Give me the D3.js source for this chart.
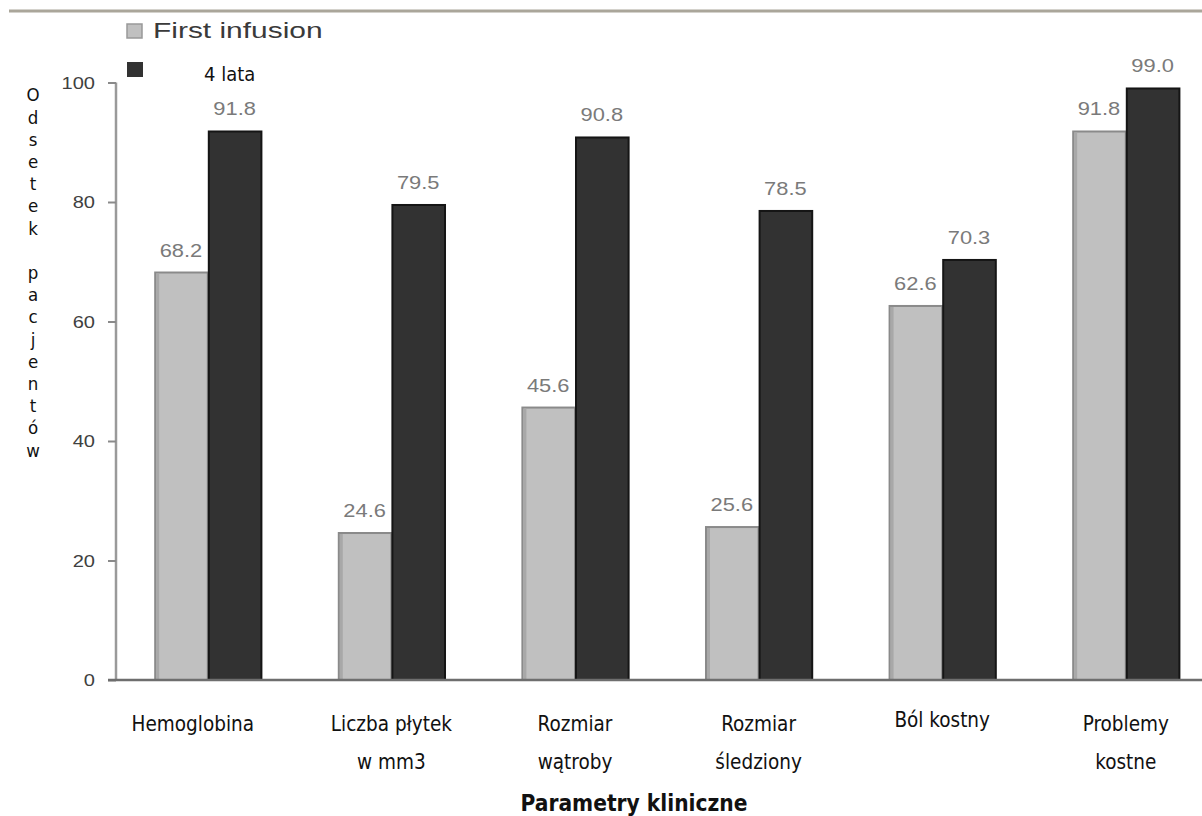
<!DOCTYPE html>
<html><head><meta charset="utf-8">
<script src="https://cdn.jsdelivr.net/npm/d3@7"></script>
<style>
html,body{margin:0;padding:0;background:#fff;}
svg{display:block;}
.tah{font-family:'DejaVu Sans Condensed','DejaVu Sans',sans-serif;font-stretch:condensed;}
.ari{font-family:'Liberation Sans',Arial,sans-serif;}
</style>
</head><body>
<svg id="chart" width="1202" height="816"></svg>
<script>
const categories = [["Hemoglobina"], ["Liczba płytek","w mm3"], ["Rozmiar","wątroby"], ["Rozmiar","śledziony"], ["Ból kostny"], ["Problemy","kostne"]];
const seriesNames = ["First infusion", "4 lata"];
const firstInfusion = [68.2, 24.6, 45.6, 25.6, 62.6, 91.8];
const fourYears = [91.8, 79.5, 90.8, 78.5, 70.3, 99.0];
const yTicks = [0, 20, 40, 60, 80, 100];
const yTitle = "Odsetek pacjentów";
const xTitle = "Parametry kliniczne";

const svg = d3.select("#chart");
const W = 1202;
const y = d3.scaleLinear().domain([0,100]).range([680, 82.5]);
const x0 = d3.scaleBand().domain(d3.range(categories.length)).range([116, 1217.6]).paddingInner(0.416).paddingOuter(0.208);
const x1 = d3.scaleBand().domain([0,1]).range([0, x0.bandwidth()]);
const colors = ["#c0c0c0", "#323232"];
const strokes = ["#8a8a8a", "#151515"];

// top rule
svg.append("line").attr("x1",9).attr("x2",W).attr("y1",11).attr("y2",11).attr("stroke","#aaa69a").attr("stroke-width",3);

function stretch(sel, f){ sel.each(function(){ const n=this.getComputedTextLength(); d3.select(this).attr("textLength", n*f).attr("lengthAdjust","spacingAndGlyphs"); }); }

// bars
const data = [firstInfusion, fourYears];
data.forEach((vals, s) => {
  svg.append("g").selectAll("rect").data(vals).join("rect")
    .attr("x", (d,i) => x0(i) + x1(s) + 1)
    .attr("y", d => y(d))
    .attr("width", x1.bandwidth() - 1)
    .attr("height", d => y(0) - y(d))
    .attr("fill", colors[s]).attr("stroke", strokes[s]).attr("stroke-width", 2);
});
// darker left edge of light bars
svg.append("g").selectAll("line").data(firstInfusion).join("line")
  .attr("x1", (d,i) => x0(i) + 3.5).attr("x2", (d,i) => x0(i) + 3.5)
  .attr("y1", d => y(d) + 1).attr("y2", y(0))
  .attr("stroke", "#a8a8a8").attr("stroke-width", 3);

// axes
const yAxis = svg.append("g").attr("transform","translate(116,0)").call(d3.axisLeft(y).tickValues(yTicks).tickSize(8).tickPadding(13).tickFormat(d3.format("d")));
yAxis.select(".domain").attr("stroke","#9a9a9a").attr("stroke-width",2.5).attr("d","M0,"+y(100)+"V"+y(0));
yAxis.selectAll(".tick line").attr("stroke","#8a8a8a").attr("stroke-width",2);
yAxis.selectAll(".tick text").attr("class","ari").attr("font-size",17).attr("fill","#404040").attr("dy","0.35em");
stretch(yAxis.selectAll(".tick text"), 1.18);

svg.append("line").attr("x1",108).attr("x2",W).attr("y1",y(0)).attr("y2",y(0)).attr("stroke","#6e6e6e").attr("stroke-width",2.5);

// value labels
data.forEach((vals, s) => {
  const t = svg.append("g").selectAll("text").data(vals).join("text")
    .attr("class","ari")
    .attr("x", (d,i) => x0(i) + x1(s) + x1.bandwidth()/2)
    .attr("y", d => y(d) - 16)
    .attr("text-anchor","middle").attr("font-size",19).attr("fill","#7a7a7a")
    .text(d => d.toFixed(1));
  stretch(t, 1.15);
});

// x labels
categories.forEach((lines, i) => {
  const cx = x0(i) + x0.bandwidth()/2 - (i===0 ? 15 : 0);
  lines.forEach((ln, j) => {
    svg.append("text").attr("class","tah").attr("x", cx).attr("y", (lines.length===1 && i===4 ? 727 : 731) + j*38)
      .attr("text-anchor","middle").attr("font-size",20.5).attr("fill","#111").text(ln);
  });
});

svg.append("text").attr("class","tah").attr("x",634).attr("y",811).attr("text-anchor","middle")
  .attr("font-size",22.5).attr("font-weight","bold").attr("fill","#111").text(xTitle);

// y title stacked letters
const letters = Array.from(yTitle);
svg.append("g").selectAll("text").data(letters).join("text")
  .attr("class","tah").attr("x",33).attr("y",(d,i)=>95+i*22.2).attr("dy","0.35em")
  .attr("text-anchor","middle").attr("font-size",18.5).attr("fill","#111").text(d=>d);

// legend
svg.append("rect").attr("x",127).attr("y",24).attr("width",15).attr("height",14).attr("fill",colors[0]).attr("stroke","#999").attr("stroke-width",1.5);
const lt = svg.append("text").attr("class","ari").attr("x",153).attr("y",38).attr("font-size",22).attr("fill","#3a3a3a").text(seriesNames[0]);
stretch(lt, 1.36);
svg.append("rect").attr("x",127).attr("y",62).attr("width",16).attr("height",15).attr("fill",colors[1]);
svg.append("text").attr("class","tah").attr("x",204).attr("y",81).attr("font-size",20).attr("fill","#111").text(seriesNames[1]);
</script>
</body></html>
